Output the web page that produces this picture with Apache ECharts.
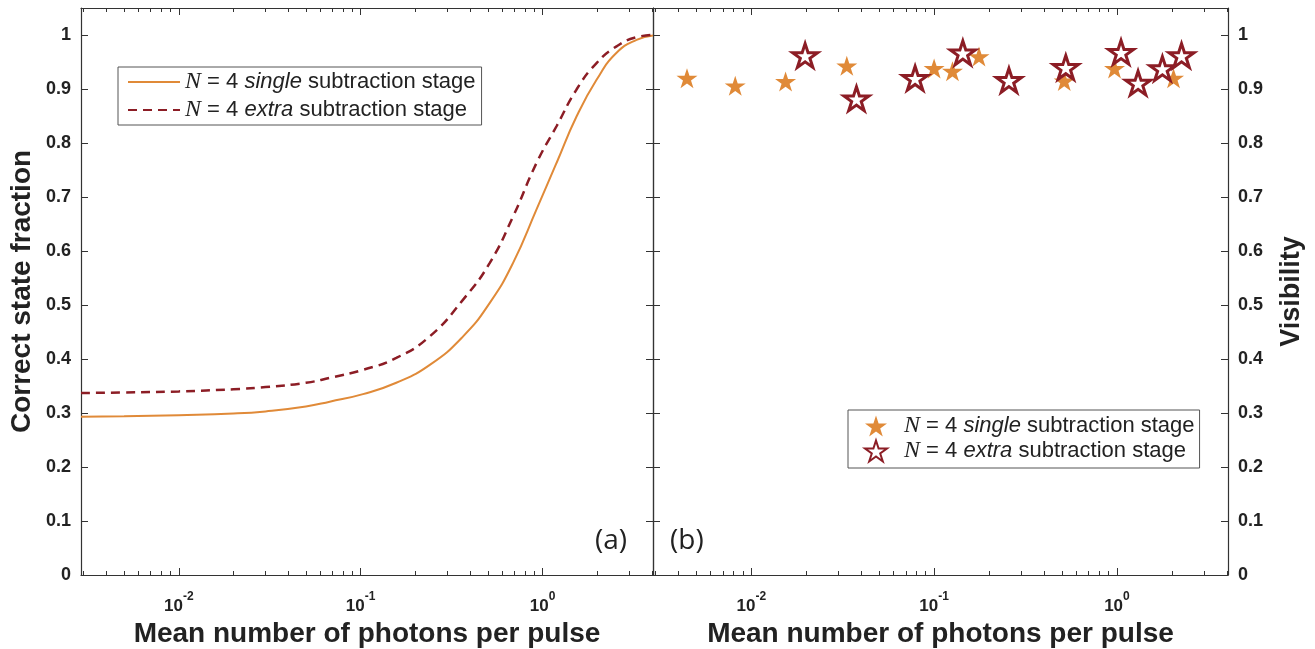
<!DOCTYPE html>
<html>
<head>
<meta charset="utf-8">
<script src="https://cdn.jsdelivr.net/npm/echarts@6/dist/echarts.min.js"></script>
<style>
    html, body { margin: 0; padding: 0; background: #fff; }
    #main { width: 1315px; height: 649px; }
</style>
</head>
<body>
<div id="main"></div>
<script>
    // (a) correct state fraction vs mean photon number
    var photonsA = [0.0029, 0.005, 0.01, 0.02, 0.03, 0.05, 0.0676, 0.103, 0.157, 0.24, 0.366, 0.513, 0.689, 0.927, 1.194, 1.538, 1.982, 2.553, 3.289, 4.05];
    var singleA = [0.293, 0.294, 0.296, 0.299, 0.303, 0.312, 0.321, 0.335, 0.356, 0.389, 0.442, 0.504, 0.578, 0.677, 0.763, 0.849, 0.917, 0.967, 0.991, 0.999];
    var extraA = [0.337, 0.338, 0.340, 0.344, 0.348, 0.356, 0.365, 0.380, 0.402, 0.442, 0.510, 0.578, 0.664, 0.763, 0.831, 0.899, 0.948, 0.979, 0.996, 1.0];

    // (b) visibility
    var photonsSingleB = [0.00445, 0.00817, 0.0154, 0.0333, 0.100, 0.126, 0.176, 0.515, 0.970, 2.04];
    var visSingleB = [0.920, 0.906, 0.914, 0.943, 0.938, 0.933, 0.960, 0.915, 0.938, 0.920];
    var photonsExtraB = [0.0197, 0.0376, 0.0787, 0.1436, 0.2566, 0.525, 1.053, 1.305, 1.773, 2.256];
    var visExtraB = [0.962, 0.882, 0.920, 0.967, 0.916, 0.940, 0.968, 0.911, 0.938, 0.962];

    var xMajorTicks = [0.01, 0.1, 1];
    var xMinorTicks = [0.003, 0.004, 0.005, 0.006, 0.007, 0.008, 0.009,
        0.02, 0.03, 0.04, 0.05, 0.06, 0.07, 0.08, 0.09,
        0.2, 0.3, 0.4, 0.5, 0.6, 0.7, 0.8, 0.9, 2, 3, 4];
    var yTicks = [0, 0.1, 0.2, 0.3, 0.4, 0.5, 0.6, 0.7, 0.8, 0.9, 1];

    var seriesNames = ['single', 'extra'];

    var X_MIN = 0.0029, X_MAX = 4.05;
    var axisColor = '#333';
    var textColor = '#222';
    var orange = '#E08A38';
    var darkRed = '#8C1D25';
    var starPath = 'path://M0,-10 L2.245,-3.09 L9.511,-3.09 L3.633,1.18 L5.878,8.09 L0,3.82 L-5.878,8.09 L-3.633,1.18 L-9.511,-3.09 L-2.245,-3.09 Z';

    function toPairs(xs, ys) {
        return xs.map(function (x, i) { return [x, ys[i]]; });
    }

    // 4 x axes per panel: bottom major (with labels), bottom minor, top major, top minor
    function xAxesFor(gridIndex) {
        var base = {
            type: 'log', gridIndex: gridIndex, min: X_MIN, max: X_MAX,
            splitLine: {show: false}, minorTick: {show: false}
        };
        var major = Object.assign({}, base, {
            position: 'bottom',
            axisLine: {show: true, onZero: false, lineStyle: {color: axisColor, width: 1.2}},
            axisTick: {show: true, inside: true, length: 7, customValues: xMajorTicks, lineStyle: {color: axisColor}},
            axisLabel: {
                show: true, margin: 16, customValues: xMajorTicks,
                formatter: function (v) {
                    return '{b|10}{s|' + Math.round(Math.log10(v)) + '}';
                },
                rich: {
                    b: {fontSize: 17, fontWeight: 'bold', fontFamily: 'Liberation Sans', color: textColor, lineHeight: 24, verticalAlign: 'bottom'},
                    s: {fontSize: 12, fontWeight: 'bold', fontFamily: 'Liberation Sans', color: textColor, lineHeight: 24, verticalAlign: 'top'}
                }
            },
            name: 'Mean number of photons per pulse',
            nameLocation: 'middle',
            nameGap: 44,
            nameTextStyle: {fontSize: 28, fontWeight: 'bold', fontFamily: 'Liberation Sans', color: textColor}
        });
        var minor = Object.assign({}, base, {
            position: 'bottom',
            axisLine: {show: false, onZero: false},
            axisTick: {show: true, inside: true, length: 4, customValues: xMinorTicks, lineStyle: {color: axisColor}},
            axisLabel: {show: false}
        });
        var topMajor = Object.assign({}, base, {
            position: 'top',
            axisLine: {show: true, onZero: false, lineStyle: {color: axisColor, width: 1.2}},
            axisTick: {show: true, inside: true, length: 7, customValues: xMajorTicks, lineStyle: {color: axisColor}},
            axisLabel: {show: false}
        });
        var topMinor = Object.assign({}, base, {
            position: 'top',
            axisLine: {show: false, onZero: false},
            axisTick: {show: true, inside: true, length: 4, customValues: xMinorTicks, lineStyle: {color: axisColor}},
            axisLabel: {show: false}
        });
        return [major, minor, topMajor, topMinor];
    }

    function yAxisFor(gridIndex, position, withLabels, name) {
        return {
            type: 'value', gridIndex: gridIndex, position: position,
            min: 0, max: 1.05,
            splitLine: {show: false},
            axisLine: {show: true, onZero: false, lineStyle: {color: axisColor, width: 1.2}},
            axisTick: {show: true, inside: true, length: 7, customValues: yTicks, lineStyle: {color: axisColor}},
            axisLabel: {
                show: withLabels, customValues: yTicks, margin: 10,
                fontSize: 18, fontWeight: 'bold', fontFamily: 'Liberation Sans', color: textColor
            },
            name: name || '',
            nameLocation: 'middle',
            nameGap: position === 'left' ? 45 : 50,
            nameTextStyle: {fontSize: position === 'left' ? 28 : 27, fontWeight: 'bold', fontFamily: 'Liberation Sans', color: textColor}
        };
    }

    var legendRich = {
        n: {fontFamily: 'Liberation Serif', fontStyle: 'italic', fontSize: 24, color: textColor, lineHeight: 27},
        t: {fontFamily: 'Liberation Sans', fontSize: 22, color: textColor, lineHeight: 27},
        i: {fontFamily: 'Liberation Sans', fontStyle: 'italic', fontSize: 22, color: textColor, lineHeight: 27}
    };
    function legendText(name) {
        return '{n|N}{t| = 4 }{i|' + name + '}{t| subtraction stage}';
    }

    var myChart = echarts.init(document.getElementById('main'));
    var opt = {
        animation: false,
        grid: [
            {left: 81, top: 8, width: 572, height: 567, outerBoundsMode: 'none', containLabel: false},
            {left: 653, top: 8, width: 575, height: 567, outerBoundsMode: 'none', containLabel: false}
        ],
        xAxis: xAxesFor(0).concat(xAxesFor(1)),
        yAxis: [
            yAxisFor(0, 'left', true, 'Correct state fraction'),
            yAxisFor(0, 'right', false),
            yAxisFor(1, 'left', false),
            yAxisFor(1, 'right', true, 'Visibility')
        ],
        title: [
            {text: '(a)', left: 590, top: 522, textStyle: {fontFamily: 'Open Sans', fontWeight: 'normal', fontSize: 28, color: textColor}},
            {text: '(b)', left: 665, top: 522, textStyle: {fontFamily: 'Open Sans', fontWeight: 'normal', fontSize: 28, color: textColor}}
        ],
        legend: [
            {
                data: ['A ' + seriesNames[0], 'A ' + seriesNames[1]],
                orient: 'vertical', left: 118, top: 67,
                itemWidth: 52, itemHeight: 14, itemGap: 4,
                padding: [3, 6, 3, 9],
                borderColor: '#555', borderWidth: 1,
                itemStyle: {opacity: 0},
                formatter: function (name) { return legendText(name.slice(2)); },
                textStyle: {rich: legendRich}
            },
            {
                data: ['B ' + seriesNames[0], 'B ' + seriesNames[1]],
                orient: 'vertical', left: 848, top: 410,
                itemWidth: 22, itemHeight: 22, itemGap: 1,
                padding: [4, 5, 5, 16],
                borderColor: '#555', borderWidth: 1,
                formatter: function (name) { return legendText(name.slice(2)); },
                textStyle: {rich: legendRich, padding: [0, 0, 0, 12]}
            }
        ],
        series: [
            {
                name: 'A single', type: 'line', xAxisIndex: 0, yAxisIndex: 0,
                data: toPairs(photonsA, singleA),
                showSymbol: false, symbol: 'none', smooth: 0.5,
                lineStyle: {color: orange, width: 2}, itemStyle: {color: orange}
            },
            {
                name: 'A extra', type: 'line', xAxisIndex: 0, yAxisIndex: 0,
                data: toPairs(photonsA, extraA),
                showSymbol: false, symbol: 'none', smooth: 0.5,
                lineStyle: {color: darkRed, width: 2.5, type: [9, 6]}, itemStyle: {color: darkRed}
            },
            {
                name: 'B single', type: 'scatter', xAxisIndex: 4, yAxisIndex: 3,
                data: toPairs(photonsSingleB, visSingleB),
                symbol: starPath, symbolSize: 21, symbolKeepAspect: true,
                itemStyle: {color: orange, opacity: 1}
            },
            {
                name: 'B extra', type: 'scatter', xAxisIndex: 4, yAxisIndex: 3,
                data: toPairs(photonsExtraB, visExtraB),
                symbol: starPath, symbolSize: 25, symbolKeepAspect: true,
                itemStyle: {color: '#fff', borderColor: darkRed, borderWidth: 3, opacity: 1}
            }
        ]
    };
    myChart.setOption(opt);
</script>
</body>
</html>
